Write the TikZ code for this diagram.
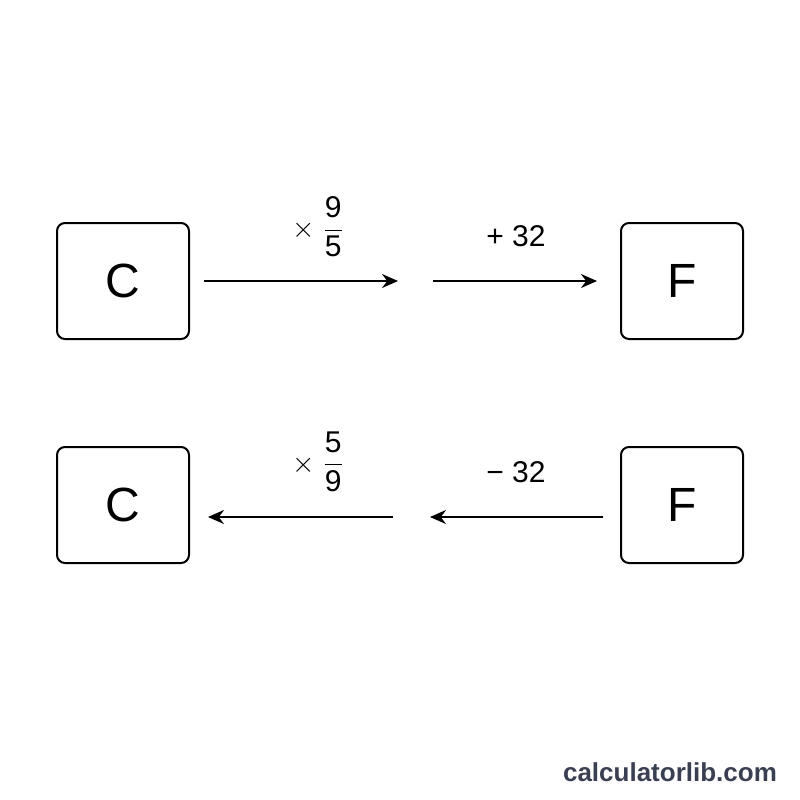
\documentclass[tikz,border=0pt]{standalone}
\usepackage{fontspec}
\setmainfont{Liberation Sans}
\usetikzlibrary{arrows.meta}

\definecolor{brandgray}{HTML}{3A3F52}

\tikzset{
    unitbox/.style={draw, line width=1pt, rounded corners=4pt, minimum width=66pt, minimum height=58pt, font=\fontsize{24}{28}\selectfont},
    convarrow/.style={line width=1pt, -{Stealth[length=8pt,width=7pt]}},
    oplabel/.style={font=\fontsize{15}{18}\selectfont},
}

\begin{document}
\begin{tikzpicture}[x=0.5pt,y=-0.5pt]
\useasboundingbox (0,0) rectangle (800,800);

% Celsius to Fahrenheit
\node [unitbox] (C1) at (123,281) {C};
\node [unitbox, minimum width=61pt] (F1) at (682,281) {F};
\coordinate (A1S) at (204,281);
\coordinate (A1E) at (398,281);
\coordinate (A2S) at (433,281);
\coordinate (A2E) at (597,281);
\draw [convarrow] (A1S) -- (A1E);
\draw [convarrow] (A2S) -- (A2E);
\node [oplabel] (mul1) at (318,227) {$\displaystyle\times\;\frac{\mathrm{9}}{\mathrm{5}}$};
\node [oplabel] (add1) at (516,236) {+ 32};

% Fahrenheit to Celsius
\node [unitbox] (C2) at (123,505) {C};
\node [unitbox, minimum width=61pt] (F2) at (682,505) {F};
\coordinate (B1S) at (603,517);
\coordinate (B1E) at (430,517);
\coordinate (B2S) at (393,517);
\coordinate (B2E) at (208,517);
\draw [convarrow] (B1S) -- (B1E);
\draw [convarrow] (B2S) -- (B2E);
\node [oplabel] (mul2) at (318,462) {$\displaystyle\times\;\frac{\mathrm{5}}{\mathrm{9}}$};
\node [oplabel] (sub2) at (516,472) {− 32};

\node [font=\bfseries\fontsize{13}{16}\selectfont, text=brandgray] (brand) at (670,772) {calculatorlib.com};
\end{tikzpicture}
\end{document}
